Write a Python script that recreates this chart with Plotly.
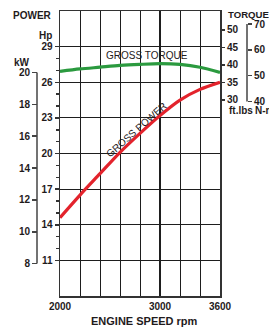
import math
import plotly.graph_objects as go

# ---------------- data ----------------
rpm = [2000, 2200, 2400, 2600, 2800, 3000, 3200, 3400, 3600]
power_hp = [14.6, 16.5, 18.3, 20.1, 21.7, 23.2, 24.5, 25.4, 26.0]
torque_ftlb = [38.1, 38.8, 39.3, 39.8, 40.1, 40.3, 40.1, 39.3, 37.8]

x_ticks = [2000, 3000, 3600]
x_grid = [2000, 2200, 2400, 2600, 2800, 3000, 3200, 3400, 3600]
hp_ticks = [11, 14, 17, 20, 23, 26, 29]
hp_minor = [12, 13, 15, 16, 18, 19, 21, 22, 24, 25, 27, 28]
kw_ticks = [8, 10, 12, 14, 16, 18, 20]
ftlb_ticks = [30, 35, 40, 45, 50]
nm_ticks = [40, 50, 60, 70]

HP_PER_KW = 1.34102
NM_PER_FTLB = 1.35582

# ---------------- layout constants ----------------
OFF = 0                      # body margin removed via post_script
W, H = 269 - OFF, 328 - OFF
# paper spans screen x 37..247, screen y 10.7..296
ML = 37 - OFF
MR = W - (247 - OFF)
MT = 10.7 - OFF
MB = H - (296 - OFF)
PW, PH = W - ML - MR, H - MT - MB
FONT = "Liberation Sans, Arial, sans-serif"
INK = "#1f1b1c"
GRID = "#1e1e1e"

def px(xs):
    return (xs - OFF - ML) / PW

def py(ys):
    return (H - MB - (ys - OFF)) / PH

hp_range = [8, 32]
ft_range = [-26.08, 55.36]
kw_range = [v / HP_PER_KW for v in hp_range]
nm_range = [v * NM_PER_FTLB for v in ft_range]

fig = go.Figure()
fig.add_trace(go.Scatter(x=rpm, y=torque_ftlb, yaxis="y2", mode="lines",
                         line=dict(color="#2b9a3f", width=3.2, shape="spline", smoothing=0.8),
                         hoverinfo="skip", showlegend=False))
fig.add_trace(go.Scatter(x=rpm, y=power_hp, yaxis="y", mode="lines",
                         line=dict(color="#e3232c", width=3.2, shape="spline", smoothing=0.8),
                         hoverinfo="skip", showlegend=False))

bold = dict(family=FONT, size=10, color=INK, weight="bold")

fig.update_layout(
    width=W, height=H, margin=dict(l=ML, r=MR, t=MT, b=MB, pad=0, autoexpand=False),
    paper_bgcolor="white", plot_bgcolor="white",
    font=dict(family=FONT, color=INK),
    xaxis=dict(domain=[px(60), px(220)], range=[2000, 3600], automargin=False,
               tickvals=x_ticks, ticks="", showgrid=True, gridcolor=GRID, gridwidth=2,
               minor=dict(tickvals=x_grid, showgrid=True, gridcolor=GRID, gridwidth=1, ticks=""),
               showline=True, linecolor="#333", linewidth=1.5, mirror=True,
               tickfont=bold, zeroline=False, fixedrange=True),
    yaxis=dict(range=hp_range, tickvals=hp_ticks, ticks="outside", ticklen=4, tickwidth=1.5,
               automargin=False,
               tickcolor="#333", showgrid=True, gridcolor=GRID, gridwidth=1,
               minor=dict(tickvals=hp_minor, ticks="outside", ticklen=3, tickwidth=1.5,
                          tickcolor="#333", showgrid=False),
               showline=True, linecolor="#333", linewidth=1.5, mirror=True,
               tickfont=bold, zeroline=False, fixedrange=True),
    yaxis2=dict(overlaying="y", anchor="x", side="right", range=ft_range, automargin=False,
                tickvals=ftlb_ticks, ticks="outside", ticklen=4, tickwidth=1.5, tickcolor="#333",
                showgrid=False, showline=False, zeroline=False, tickfont=bold, fixedrange=True),
    yaxis3=dict(overlaying="y", anchor="free", position=0, side="left", range=kw_range,
                automargin=False,
                tickvals=kw_ticks, ticks="outside", ticklen=5, tickwidth=1.5, tickcolor="#444",
                showgrid=False, showline=False, zeroline=False, tickfont=bold, fixedrange=True),
    yaxis4=dict(overlaying="y", anchor="free", position=1, side="right", range=nm_range,
                automargin=False,
                tickvals=nm_ticks, ticks="outside", ticklen=4, tickwidth=1.5, tickcolor="#444",
                showgrid=False, showline=False, zeroline=False, tickfont=bold, fixedrange=True),
)

shapes = [
    dict(type="line", xref="paper", x0=0, x1=0, yref="y3", y0=kw_ticks[0], y1=kw_ticks[-1],
         line=dict(color="#444", width=1.5)),
    dict(type="line", xref="paper", x0=1, x1=1, yref="y4", y0=nm_ticks[0], y1=nm_ticks[-1],
         line=dict(color="#444", width=1.5)),
    # white patch behind GROSS TORQUE label
    dict(type="rect", xref="paper", yref="paper", layer="between",
         x0=px(104), x1=px(189), y0=py(60.5), y1=py(50.5),
         fillcolor="white", line=dict(width=0)),
]

# rotated white patch behind GROSS POWER label
cx, cy, ang = 136.7, 129.3, 41.6
L, Hh = 42, 5
a = math.radians(ang)
u = (math.cos(a), -math.sin(a))
v = (math.sin(a), math.cos(a))
corners = []
for s1, s2 in [(-1, -1), (1, -1), (1, 1), (-1, 1)]:
    xx = cx + s1 * L * u[0] + s2 * Hh * v[0]
    yy = cy + s1 * L * u[1] + s2 * Hh * v[1]
    corners.append((px(xx), py(yy)))
path = "M " + " L ".join(f"{x:.5f},{y:.5f}" for x, y in corners) + " Z"
shapes.append(dict(type="path", xref="paper", yref="paper", layer="between", path=path,
                   fillcolor="white", line=dict(width=0)))
fig.update_layout(shapes=shapes)

ann = []
def txt(text, xs, ys, xanchor="center", size=10, weight="bold", angle=0):
    ann.append(dict(text=text, xref="paper", yref="paper", x=px(xs), y=py(ys),
                    xanchor=xanchor, yanchor="middle", showarrow=False, textangle=angle,
                    font=dict(family=FONT, size=size, color=INK, weight=weight)))

txt("POWER", 53.5, 15, xanchor="right")
txt("Hp", 53.5, 35, xanchor="right")
txt("kW", 32, 62, xanchor="right")
txt("TORQUE", 226, 14, xanchor="left", size=9.6)
txt("ft.lbs", 227, 110, xanchor="left")
txt("N-m", 253, 110.5, xanchor="left")
txt("ENGINE SPEED rpm", 144, 321.5, size=11)
txt("GROSS TORQUE", 146.7, 55.7, weight="normal")
txt("GROSS POWER", cx, cy, weight="normal", angle=-ang)
fig.update_layout(annotations=ann)

fig.write_html("out.html", config=dict(displayModeBar=False, staticPlot=True),
               post_script="document.body.style.margin='0';"
                           "document.body.style.overflow='hidden';")
